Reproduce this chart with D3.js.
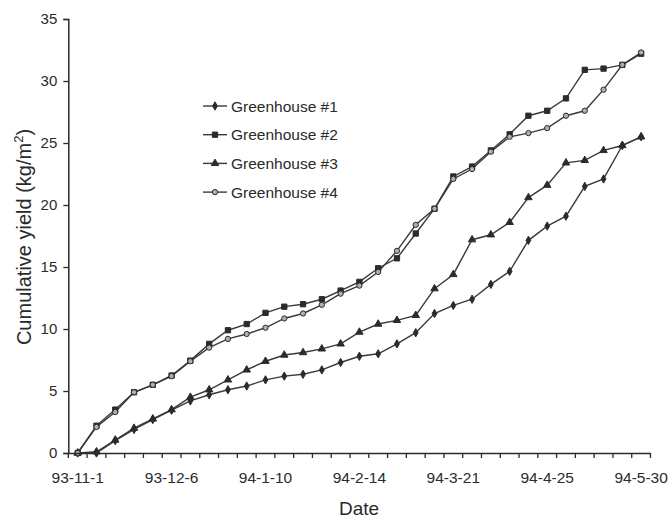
<!DOCTYPE html>
<html>
<head>
<meta charset="utf-8">
<script src="https://cdn.jsdelivr.net/npm/d3@7"></script>
<style>
  body { margin: 0; background: #fff; }
  text { font-family: "Liberation Sans", Arial, sans-serif; fill: #2a2a2a; }
</style>
</head>
<body>
<div id="chart"></div>
<script>
var dates = ["93-11-1","93-11-8","93-11-15","93-11-22","93-11-29","93-12-6","93-12-13","93-12-20","93-12-27",
    "94-1-3","94-1-10","94-1-17","94-1-24","94-1-31","94-2-7","94-2-14","94-2-21","94-2-28",
    "94-3-7","94-3-14","94-3-21","94-3-28","94-4-4","94-4-11","94-4-18","94-4-25",
    "94-5-2","94-5-9","94-5-16","94-5-23","94-5-30"];

var dateLabels = ["93-11-1","93-12-6","94-1-10","94-2-14","94-3-21","94-4-25","94-5-30"];
var yTicks = [0, 5, 10, 15, 20, 25, 30, 35];

var gh1 = [0, 0, 1.0, 1.9, 2.7, 3.45, 4.2, 4.7, 5.1, 5.4, 5.9, 6.2, 6.35, 6.7, 7.3, 7.8, 8.0, 8.8, 9.7,
    11.25, 11.9, 12.4, 13.6, 14.65, 17.15, 18.3, 19.1, 21.5, 22.1, 24.8, 25.5];
var gh2 = [0, 2.2, 3.5, 4.9, 5.5, 6.25, 7.45, 8.8, 9.9, 10.4, 11.3, 11.8, 12.0, 12.4, 13.1, 13.8, 14.9,
    15.7, 17.7, 19.7, 22.3, 23.1, 24.4, 25.7, 27.2, 27.6, 28.6, 30.9, 31.0, 31.3, 32.2];
var gh3 = [0, 0.1, 1.05, 2.0, 2.75, 3.5, 4.5, 5.1, 5.9, 6.7, 7.4, 7.9, 8.1, 8.4, 8.8, 9.75, 10.4, 10.7,
    11.1, 13.25, 14.4, 17.2, 17.6, 18.6, 20.6, 21.6, 23.4, 23.6, 24.4, 24.8, 25.5];
var gh4 = [0, 2.1, 3.3, 4.9, 5.5, 6.2, 7.4, 8.5, 9.2, 9.6, 10.1, 10.85, 11.25, 11.95, 12.85, 13.5, 14.6,
    16.3, 18.4, 19.7, 22.1, 22.9, 24.3, 25.5, 25.8, 26.2, 27.2, 27.6, 29.3, 31.3, 32.3];

var seriesNames = ["Greenhouse #1", "Greenhouse #2", "Greenhouse #3", "Greenhouse #4"];

var width = 669, height = 518;
var ink = "#2b2b2b";

var svg = d3.select("#chart").append("svg")
    .attr("width", width)
    .attr("height", height);

var x = d3.scaleBand()
    .domain(dates)
    .range([68.3, 650.5]);

var y = d3.scaleLinear()
    .domain([0, 35])
    .range([453, 19]);

function cx(d) { return x(d) + x.bandwidth() / 2; }

var series = [
    { name: seriesNames[0], values: gh1, symbol: d3.symbolDiamond, size: 20, fill: ink },
    { name: seriesNames[1], values: gh2, symbol: d3.symbolSquare, size: 28, fill: ink },
    { name: seriesNames[2], values: gh3, symbol: d3.symbolTriangle, size: 24, fill: ink },
    { name: seriesNames[3], values: gh4, symbol: d3.symbolCircle, size: 22, fill: "#b0b0b0" }
];

// lines
var line = d3.line()
    .x(function(d, i) { return cx(dates[i]); })
    .y(function(d) { return y(d); });

series.forEach(function(s) {
    svg.append("path")
        .datum(s.values)
        .attr("fill", "none")
        .attr("stroke", "#3a3a3a")
        .attr("stroke-width", 1.4)
        .attr("d", line);
});

series.forEach(function(s) {
    svg.selectAll(null)
        .data(s.values)
        .enter().append("path")
        .attr("d", d3.symbol().type(s.symbol).size(s.size))
        .attr("transform", function(d, i) { return "translate(" + cx(dates[i]) + "," + y(d) + ")"; })
        .attr("fill", s.fill)
        .attr("stroke", ink)
        .attr("stroke-width", 1);
});

// y axis
var yAxis = d3.axisLeft(y)
    .tickValues(yTicks)
    .tickSize(5)
    .tickPadding(6);
var gy = svg.append("g")
    .attr("transform", "translate(68.3,0)")
    .call(yAxis);
gy.select(".domain").attr("stroke", ink).attr("stroke-width", 1.5);
gy.selectAll(".tick line").attr("stroke", ink).attr("stroke-width", 1.3);
gy.selectAll(".tick text").attr("font-size", 15).style("fill", ink);

// x axis: labels at category centres, ticks at category boundaries
var xAxis = d3.axisBottom(x)
    .tickValues(dateLabels)
    .tickSize(0)
    .tickPadding(19)
    .tickSizeOuter(0);
var gx = svg.append("g")
    .attr("transform", "translate(0,453)")
    .call(xAxis);
gx.select(".domain").attr("stroke", ink).attr("stroke-width", 1.5);
gx.selectAll(".tick text").attr("font-size", 15.5).style("fill", ink);

var bounds = dates.map(function(d) { return x(d); }).concat([x.range()[1]]);
gx.selectAll(".bound")
    .data(bounds)
    .enter().append("line")
    .attr("class", "bound")
    .attr("x1", function(d) { return d; })
    .attr("x2", function(d) { return d; })
    .attr("y1", 0)
    .attr("y2", 5)
    .attr("stroke", ink)
    .attr("stroke-width", 1.3);

// titles
svg.append("text")
    .attr("x", 359)
    .attr("y", 515)
    .attr("text-anchor", "middle")
    .attr("font-size", 19)
    .text("Date");

var yt = svg.append("text")
    .attr("transform", "translate(31,237) rotate(-90)")
    .attr("text-anchor", "middle")
    .attr("font-size", 20);
yt.append("tspan").text("Cumulative yield (kg/m");
yt.append("tspan").attr("font-size", 13).attr("dy", -8).text("2");
yt.append("tspan").attr("dy", 8).text(")");

// legend
var legend = svg.append("g").attr("transform", "translate(203,106)");
series.forEach(function(s, i) {
    var g = legend.append("g").attr("transform", "translate(0," + (i * 28.7) + ")");
    g.append("line")
        .attr("x1", 0).attr("x2", 24)
        .attr("y1", 0).attr("y2", 0)
        .attr("stroke", "#3a3a3a")
        .attr("stroke-width", 1.4);
    g.append("path")
        .attr("d", d3.symbol().type(s.symbol).size(s.size))
        .attr("transform", "translate(12,0)")
        .attr("fill", s.fill)
        .attr("stroke", ink);
    g.append("text")
        .attr("x", 28)
        .attr("y", 5.5)
        .attr("font-size", 15.5)
        .text(s.name);
});
</script>
</body>
</html>
